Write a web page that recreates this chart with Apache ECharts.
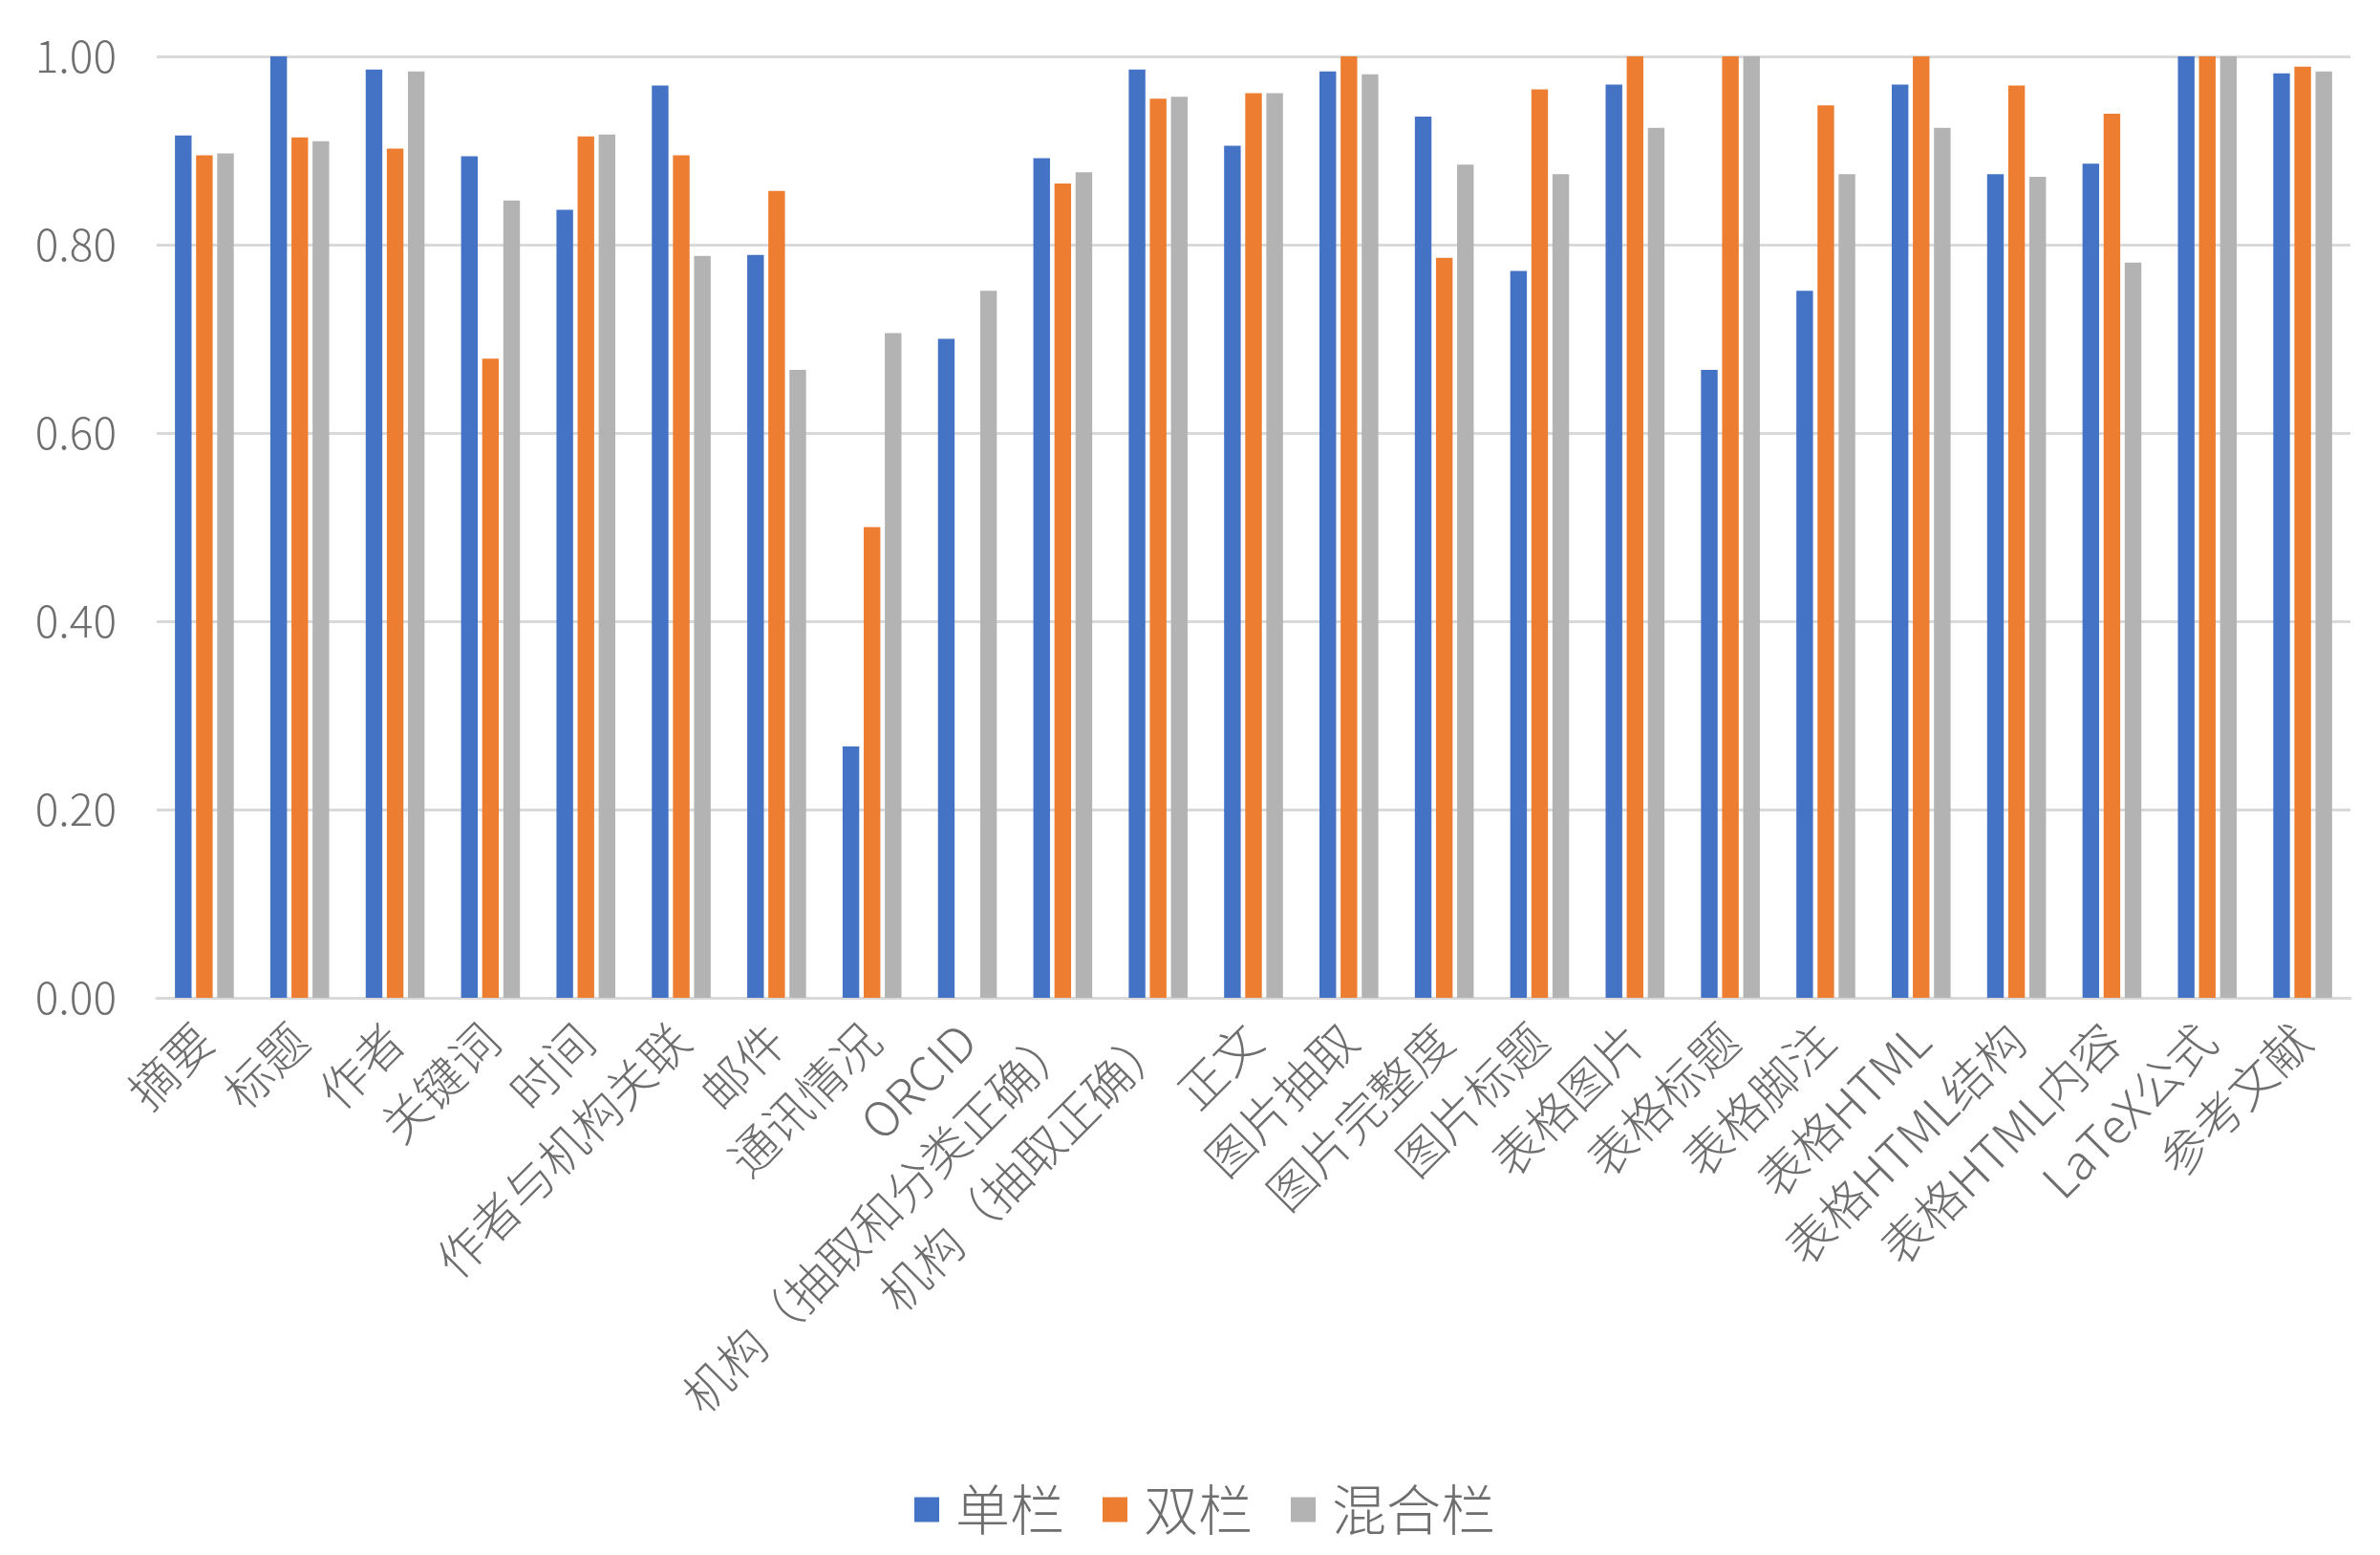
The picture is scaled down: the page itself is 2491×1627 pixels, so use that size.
<!DOCTYPE html>
<html>
<head>
<meta charset="utf-8">
<script src="https://cdn.jsdelivr.net/npm/echarts@6/dist/echarts.min.js"></script>
<style>
html,body{margin:0;padding:0;background:#fff;}
#chart{width:2491px;height:1627px;}
</style>
</head>
<body>
<div id="chart"></div>
<script>
var categories = ['摘要','标题','作者','关键词','时间','作者与机构关联','邮件','通讯情况','ORCID','机构（抽取和分类正确）','机构（抽取正确）','正文','图片抽取','图片完整度','图片标题','表格图片','表格标题','表格脚注','表格HTML','表格HTML结构','表格HTML内容','LaTeX公式','参考文献'];
var seriesNames = ['单栏','双栏','混合栏'];
var singleCol = [0.916,1.000,0.986,0.894,0.837,0.969,0.789,0.267,0.700,0.892,0.986,0.905,0.984,0.936,0.772,0.970,0.667,0.751,0.970,0.875,0.886,1.000,0.982];
var doubleCol = [0.895,0.914,0.902,0.679,0.915,0.895,0.857,0.500,0,0.865,0.955,0.961,1.000,0.786,0.965,1.000,1.000,0.948,1.000,0.969,0.939,1.000,0.989];
var mixedCol  = [0.897,0.910,0.984,0.847,0.917,0.788,0.667,0.706,0.751,0.877,0.957,0.961,0.981,0.885,0.875,0.924,1.000,0.875,0.924,0.872,0.781,1.000,0.984];
var yTicks = [0, 0.2, 0.4, 0.6, 0.8, 1.0];
var colors = ['#4472C4','#ED7D31','#B3B3B3'];

var chart = echarts.init(document.getElementById('chart'));
var font = '"Noto Sans CJK SC", "Noto Sans", sans-serif';
var txtColor = '#6e6e6e';
function mk(name, data, i){
  return {
    name: name, type: 'bar', data: data,
    barWidth: 17.4, barGap: '27%',
    itemStyle: {color: colors[i]},
    animation: false
  };
}
chart.setOption({
  animation: false,
  textStyle: {fontFamily: font},
  grid: {left: 164, right: 31, top: 59, bottom: 583, containLabel: false},
  legend: {
    data: seriesNames,
    left: 952, top: 1546,
    itemWidth: 26, itemHeight: 26, itemGap: 40,
    icon: 'rect',
    textStyle: {fontSize: 57, color: txtColor, fontFamily: font, fontWeight: 300, padding: [0, 0, 0, 12]}
  },
  xAxis: {
    type: 'category', data: categories,
    axisLine: {show: true, lineStyle: {color: '#d9d9d9', width: 3}},
    axisTick: {show: false},
    axisLabel: {interval: 0, rotate: 45, fontSize: 50, color: txtColor, margin: 36, fontFamily: font, fontWeight: 300}
  },
  yAxis: {
    type: 'value', min: yTicks[0], max: yTicks[yTicks.length-1], interval: yTicks[1]-yTicks[0],
    axisLine: {show: false}, axisTick: {show: false},
    splitLine: {lineStyle: {color: '#d9d9d9', width: 3}},
    axisLabel: {fontSize: 46, color: txtColor, margin: 42, fontFamily: font, fontWeight: 300,
      formatter: function(v){ return v.toFixed(2); }}
  },
  series: [mk(seriesNames[0], singleCol, 0), mk(seriesNames[1], doubleCol, 1), mk(seriesNames[2], mixedCol, 2)]
});
</script>
</body>
</html>
